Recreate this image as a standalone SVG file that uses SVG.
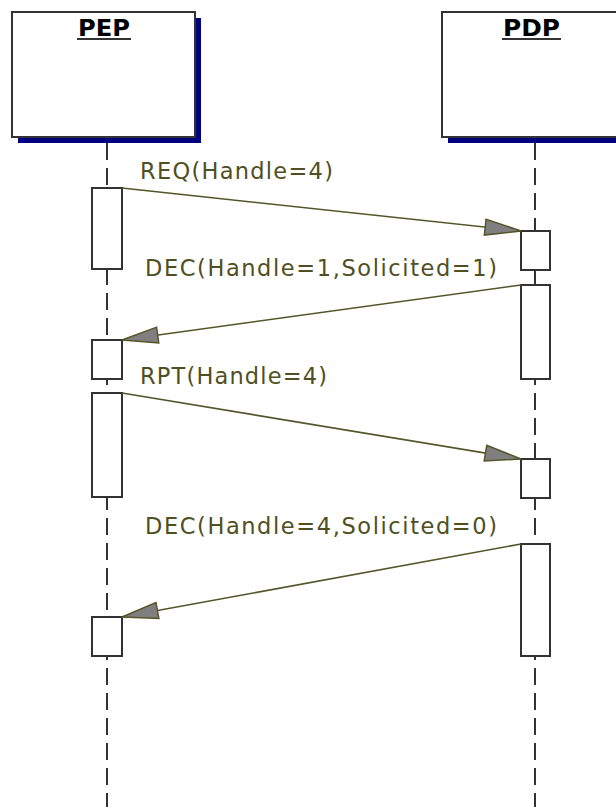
<svg xmlns="http://www.w3.org/2000/svg" width="616" height="807" viewBox="0 0 616 807">
<defs>
<style>
.box{fill:#fff;stroke:#333;stroke-width:2}
.shadow{fill:#000080}
.life{stroke:#333;stroke-width:2;stroke-dasharray:17 8;fill:none}
.act{fill:#fff;stroke:#333;stroke-width:2}
.title{font-family:"DejaVu Sans",Verdana,sans-serif;font-weight:bold;font-size:23px;fill:#000}
.ul{stroke:#333;stroke-width:2}
.msg{stroke:#55552a;stroke-width:1.6;fill:none;marker-end:url(#arr)}
.lbl{font-family:"DejaVu Sans",Verdana,sans-serif;font-size:22.5px;fill:#4f4f22}
</style>
<marker id="arr" markerUnits="userSpaceOnUse" markerWidth="42" markerHeight="22" viewBox="-39 -11 42 22" refX="0" refY="0" orient="auto">
<path d="M0,0 L-36,-8 L-36,8 Z" fill="#7f7f7f" stroke="#55552a" stroke-width="1.5" stroke-linejoin="miter"/>
</marker>
</defs>
<rect width="616" height="807" fill="#fff"/>
<g id="PEP">
<rect class="shadow" x="18" y="18" width="183" height="125"/>
<rect class="box" x="12" y="12" width="183" height="125"/>
<text class="title" x="78" y="36" textLength="52" lengthAdjust="spacingAndGlyphs">PEP</text>
<line class="ul" x1="77" y1="39" x2="131" y2="39"/>
<line class="life" x1="107" y1="143" x2="107" y2="807"/>
<rect class="act" x="92" y="188" width="30" height="81"/>
<rect class="act" x="92" y="340" width="30" height="39"/>
<rect class="act" x="92" y="393" width="30" height="104"/>
<rect class="act" x="92" y="617" width="30" height="39"/>
</g>
<g id="PDP">
<rect class="shadow" x="448" y="18" width="180" height="125"/>
<rect class="box" x="442" y="12" width="190" height="125"/>
<text class="title" x="503" y="36" textLength="57" lengthAdjust="spacingAndGlyphs">PDP</text>
<line class="ul" x1="502" y1="39" x2="561" y2="39"/>
<line class="life" x1="535" y1="143" x2="535" y2="807"/>
<rect class="act" x="521" y="231" width="29" height="39"/>
<rect class="act" x="521" y="285" width="29" height="94"/>
<rect class="act" x="521" y="459" width="29" height="39"/>
<rect class="act" x="521" y="544" width="29" height="112"/>
</g>
<g id="connectors">
<line class="msg" x1="122" y1="188" x2="521" y2="231"/>
<text class="lbl" x="140" y="179" textLength="193" lengthAdjust="spacing">REQ(Handle=4)</text>
<line class="msg" x1="521" y1="285" x2="122" y2="340"/>
<text class="lbl" x="145" y="276" textLength="352" lengthAdjust="spacing">DEC(Handle=1,Solicited=1)</text>
<line class="msg" x1="122" y1="393" x2="521" y2="459"/>
<text class="lbl" x="140" y="384" textLength="187" lengthAdjust="spacing">RPT(Handle=4)</text>
<line class="msg" x1="521" y1="544" x2="122" y2="617"/>
<text class="lbl" x="145" y="534" textLength="352" lengthAdjust="spacing">DEC(Handle=4,Solicited=0)</text>
</g>
</svg>
